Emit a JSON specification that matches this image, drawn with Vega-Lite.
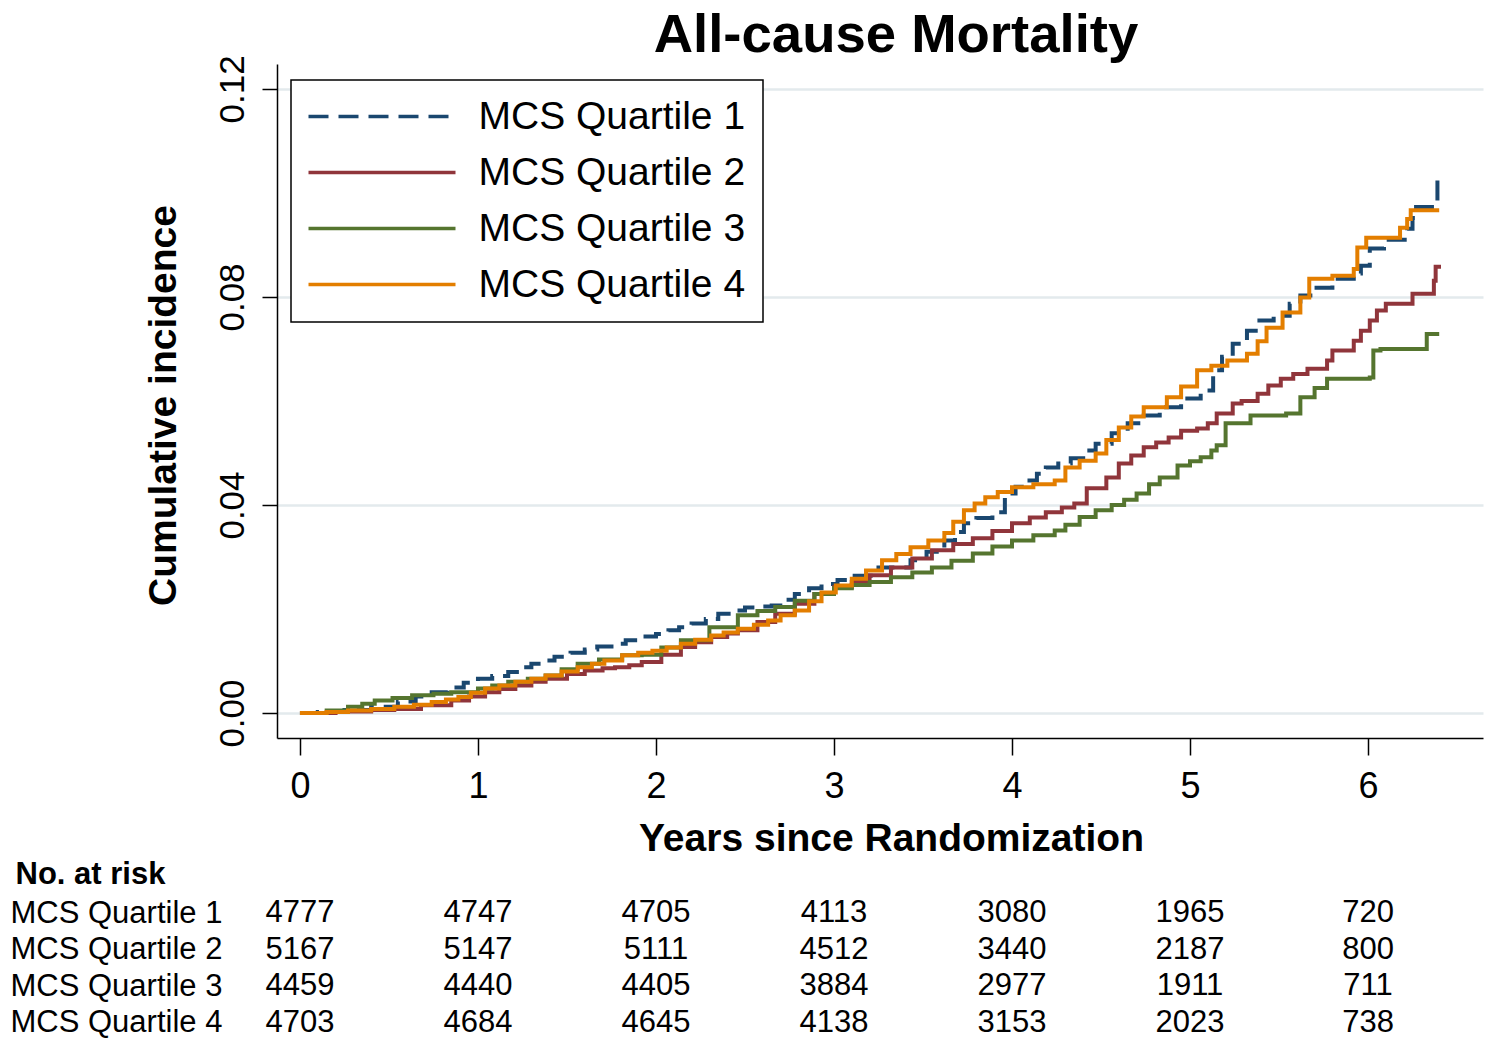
{
  "$schema": "https://vega.github.io/schema/vega-lite/v6.json",
  "padding": {"left": 10, "top": 8, "right": 5, "bottom": 0},
  "background": "white",
  "config": {"view": {"stroke": null}, "font": "Liberation Sans", "concat": {"spacing": 0}},
  "datasets": {
    "curves": [
      {"series":"MCS Quartile 1","years":0,"cuminc":0},{"series":"MCS Quartile 1","years":0.1,"cuminc":0.0002},{"series":"MCS Quartile 1","years":0.25,"cuminc":0.0006},{"series":"MCS Quartile 1","years":0.4,"cuminc":0.0012},{"series":"MCS Quartile 1","years":0.55,"cuminc":0.0022},{"series":"MCS Quartile 1","years":0.65,"cuminc":0.0032},{"series":"MCS Quartile 1","years":0.74,"cuminc":0.004},{"series":"MCS Quartile 1","years":0.83,"cuminc":0.0049},{"series":"MCS Quartile 1","years":0.92,"cuminc":0.0058},{"series":"MCS Quartile 1","years":1.0,"cuminc":0.0066},{"series":"MCS Quartile 1","years":1.08,"cuminc":0.0071},{"series":"MCS Quartile 1","years":1.17,"cuminc":0.0079},{"series":"MCS Quartile 1","years":1.24,"cuminc":0.0088},{"series":"MCS Quartile 1","years":1.3,"cuminc":0.0095},{"series":"MCS Quartile 1","years":1.37,"cuminc":0.0101},{"series":"MCS Quartile 1","years":1.43,"cuminc":0.0108},{"series":"MCS Quartile 1","years":1.52,"cuminc":0.0116},{"series":"MCS Quartile 1","years":1.6,"cuminc":0.0122},{"series":"MCS Quartile 1","years":1.67,"cuminc":0.0128},{"series":"MCS Quartile 1","years":1.75,"cuminc":0.0133},{"series":"MCS Quartile 1","years":1.83,"cuminc":0.014},{"series":"MCS Quartile 1","years":1.92,"cuminc":0.0147},{"series":"MCS Quartile 1","years":2.0,"cuminc":0.0152},{"series":"MCS Quartile 1","years":2.07,"cuminc":0.0159},{"series":"MCS Quartile 1","years":2.13,"cuminc":0.0165},{"series":"MCS Quartile 1","years":2.2,"cuminc":0.0172},{"series":"MCS Quartile 1","years":2.28,"cuminc":0.0181},{"series":"MCS Quartile 1","years":2.35,"cuminc":0.0191},{"series":"MCS Quartile 1","years":2.42,"cuminc":0.0197},{"series":"MCS Quartile 1","years":2.5,"cuminc":0.0203},{"series":"MCS Quartile 1","years":2.58,"cuminc":0.0205},{"series":"MCS Quartile 1","years":2.65,"cuminc":0.0207},{"series":"MCS Quartile 1","years":2.72,"cuminc":0.0218},{"series":"MCS Quartile 1","years":2.78,"cuminc":0.0229},{"series":"MCS Quartile 1","years":2.86,"cuminc":0.024},{"series":"MCS Quartile 1","years":2.93,"cuminc":0.0248},{"series":"MCS Quartile 1","years":3.02,"cuminc":0.0256},{"series":"MCS Quartile 1","years":3.1,"cuminc":0.0264},{"series":"MCS Quartile 1","years":3.25,"cuminc":0.028},{"series":"MCS Quartile 1","years":3.43,"cuminc":0.0294},{"series":"MCS Quartile 1","years":3.52,"cuminc":0.031},{"series":"MCS Quartile 1","years":3.62,"cuminc":0.0332},{"series":"MCS Quartile 1","years":3.68,"cuminc":0.0348},{"series":"MCS Quartile 1","years":3.73,"cuminc":0.0365},{"series":"MCS Quartile 1","years":3.8,"cuminc":0.0375},{"series":"MCS Quartile 1","years":3.89,"cuminc":0.0386},{"series":"MCS Quartile 1","years":3.96,"cuminc":0.0422},{"series":"MCS Quartile 1","years":4.02,"cuminc":0.0435},{"series":"MCS Quartile 1","years":4.08,"cuminc":0.0447},{"series":"MCS Quartile 1","years":4.14,"cuminc":0.046},{"series":"MCS Quartile 1","years":4.19,"cuminc":0.0472},{"series":"MCS Quartile 1","years":4.26,"cuminc":0.048},{"series":"MCS Quartile 1","years":4.33,"cuminc":0.049},{"series":"MCS Quartile 1","years":4.4,"cuminc":0.0505},{"series":"MCS Quartile 1","years":4.47,"cuminc":0.0518},{"series":"MCS Quartile 1","years":4.56,"cuminc":0.0538},{"series":"MCS Quartile 1","years":4.65,"cuminc":0.0557},{"series":"MCS Quartile 1","years":4.74,"cuminc":0.0572},{"series":"MCS Quartile 1","years":4.83,"cuminc":0.0588},{"series":"MCS Quartile 1","years":4.95,"cuminc":0.0605},{"series":"MCS Quartile 1","years":5.06,"cuminc":0.062},{"series":"MCS Quartile 1","years":5.13,"cuminc":0.0659},{"series":"MCS Quartile 1","years":5.18,"cuminc":0.0685},{"series":"MCS Quartile 1","years":5.24,"cuminc":0.071},{"series":"MCS Quartile 1","years":5.32,"cuminc":0.0735},{"series":"MCS Quartile 1","years":5.39,"cuminc":0.0755},{"series":"MCS Quartile 1","years":5.47,"cuminc":0.0764},{"series":"MCS Quartile 1","years":5.56,"cuminc":0.0787},{"series":"MCS Quartile 1","years":5.62,"cuminc":0.0803},{"series":"MCS Quartile 1","years":5.69,"cuminc":0.0818},{"series":"MCS Quartile 1","years":5.8,"cuminc":0.0835},{"series":"MCS Quartile 1","years":5.92,"cuminc":0.0845},{"series":"MCS Quartile 1","years":5.96,"cuminc":0.086},{"series":"MCS Quartile 1","years":6.01,"cuminc":0.0893},{"series":"MCS Quartile 1","years":6.09,"cuminc":0.091},{"series":"MCS Quartile 1","years":6.22,"cuminc":0.0931},{"series":"MCS Quartile 1","years":6.25,"cuminc":0.0952},{"series":"MCS Quartile 1","years":6.27,"cuminc":0.0973},{"series":"MCS Quartile 1","years":6.39,"cuminc":0.1033},{"series":"MCS Quartile 1","years":6.4,"cuminc":0.1033},
      {"series":"MCS Quartile 2","years":0,"cuminc":0},{"series":"MCS Quartile 2","years":0.2,"cuminc":0.0003},{"series":"MCS Quartile 2","years":0.4,"cuminc":0.0006},{"series":"MCS Quartile 2","years":0.53,"cuminc":0.0008},{"series":"MCS Quartile 2","years":0.68,"cuminc":0.0015},{"series":"MCS Quartile 2","years":0.85,"cuminc":0.0024},{"series":"MCS Quartile 2","years":0.95,"cuminc":0.0032},{"series":"MCS Quartile 2","years":1.04,"cuminc":0.004},{"series":"MCS Quartile 2","years":1.12,"cuminc":0.0046},{"series":"MCS Quartile 2","years":1.21,"cuminc":0.0053},{"series":"MCS Quartile 2","years":1.3,"cuminc":0.006},{"series":"MCS Quartile 2","years":1.38,"cuminc":0.0066},{"series":"MCS Quartile 2","years":1.5,"cuminc":0.0075},{"series":"MCS Quartile 2","years":1.6,"cuminc":0.0082},{"series":"MCS Quartile 2","years":1.7,"cuminc":0.0086},{"series":"MCS Quartile 2","years":1.77,"cuminc":0.0088},{"series":"MCS Quartile 2","years":1.85,"cuminc":0.0092},{"series":"MCS Quartile 2","years":1.92,"cuminc":0.0098},{"series":"MCS Quartile 2","years":2.03,"cuminc":0.0112},{"series":"MCS Quartile 2","years":2.14,"cuminc":0.0127},{"series":"MCS Quartile 2","years":2.22,"cuminc":0.0136},{"series":"MCS Quartile 2","years":2.31,"cuminc":0.0146},{"series":"MCS Quartile 2","years":2.4,"cuminc":0.0153},{"series":"MCS Quartile 2","years":2.46,"cuminc":0.0159},{"series":"MCS Quartile 2","years":2.57,"cuminc":0.0175},{"series":"MCS Quartile 2","years":2.67,"cuminc":0.0191},{"series":"MCS Quartile 2","years":2.78,"cuminc":0.021},{"series":"MCS Quartile 2","years":2.89,"cuminc":0.0229},{"series":"MCS Quartile 2","years":3.0,"cuminc":0.0242},{"series":"MCS Quartile 2","years":3.1,"cuminc":0.0252},{"series":"MCS Quartile 2","years":3.2,"cuminc":0.0265},{"series":"MCS Quartile 2","years":3.32,"cuminc":0.028},{"series":"MCS Quartile 2","years":3.44,"cuminc":0.0297},{"series":"MCS Quartile 2","years":3.55,"cuminc":0.0313},{"series":"MCS Quartile 2","years":3.67,"cuminc":0.0325},{"series":"MCS Quartile 2","years":3.78,"cuminc":0.0336},{"series":"MCS Quartile 2","years":3.89,"cuminc":0.035},{"series":"MCS Quartile 2","years":4.0,"cuminc":0.0365},{"series":"MCS Quartile 2","years":4.1,"cuminc":0.0376},{"series":"MCS Quartile 2","years":4.19,"cuminc":0.0386},{"series":"MCS Quartile 2","years":4.28,"cuminc":0.0395},{"series":"MCS Quartile 2","years":4.35,"cuminc":0.0403},{"series":"MCS Quartile 2","years":4.42,"cuminc":0.0432},{"series":"MCS Quartile 2","years":4.53,"cuminc":0.0453},{"series":"MCS Quartile 2","years":4.6,"cuminc":0.048},{"series":"MCS Quartile 2","years":4.67,"cuminc":0.0495},{"series":"MCS Quartile 2","years":4.74,"cuminc":0.0511},{"series":"MCS Quartile 2","years":4.81,"cuminc":0.052},{"series":"MCS Quartile 2","years":4.88,"cuminc":0.053},{"series":"MCS Quartile 2","years":4.95,"cuminc":0.0543},{"series":"MCS Quartile 2","years":5.04,"cuminc":0.0547},{"series":"MCS Quartile 2","years":5.1,"cuminc":0.0557},{"series":"MCS Quartile 2","years":5.15,"cuminc":0.0576},{"series":"MCS Quartile 2","years":5.24,"cuminc":0.0595},{"series":"MCS Quartile 2","years":5.29,"cuminc":0.06},{"series":"MCS Quartile 2","years":5.38,"cuminc":0.0614},{"series":"MCS Quartile 2","years":5.44,"cuminc":0.063},{"series":"MCS Quartile 2","years":5.51,"cuminc":0.0643},{"series":"MCS Quartile 2","years":5.58,"cuminc":0.0652},{"series":"MCS Quartile 2","years":5.66,"cuminc":0.0662},{"series":"MCS Quartile 2","years":5.77,"cuminc":0.0678},{"series":"MCS Quartile 2","years":5.8,"cuminc":0.0697},{"series":"MCS Quartile 2","years":5.92,"cuminc":0.0716},{"series":"MCS Quartile 2","years":5.96,"cuminc":0.0735},{"series":"MCS Quartile 2","years":6.01,"cuminc":0.0755},{"series":"MCS Quartile 2","years":6.05,"cuminc":0.0774},{"series":"MCS Quartile 2","years":6.1,"cuminc":0.0787},{"series":"MCS Quartile 2","years":6.25,"cuminc":0.0806},{"series":"MCS Quartile 2","years":6.37,"cuminc":0.0831},{"series":"MCS Quartile 2","years":6.38,"cuminc":0.0858},{"series":"MCS Quartile 2","years":6.41,"cuminc":0.0858},
      {"series":"MCS Quartile 3","years":0,"cuminc":0},{"series":"MCS Quartile 3","years":0.15,"cuminc":0.0005},{"series":"MCS Quartile 3","years":0.27,"cuminc":0.0012},{"series":"MCS Quartile 3","years":0.35,"cuminc":0.0018},{"series":"MCS Quartile 3","years":0.42,"cuminc":0.0024},{"series":"MCS Quartile 3","years":0.52,"cuminc":0.0029},{"series":"MCS Quartile 3","years":0.63,"cuminc":0.0034},{"series":"MCS Quartile 3","years":0.75,"cuminc":0.0037},{"series":"MCS Quartile 3","years":0.85,"cuminc":0.004},{"series":"MCS Quartile 3","years":1.0,"cuminc":0.0047},{"series":"MCS Quartile 3","years":1.08,"cuminc":0.0053},{"series":"MCS Quartile 3","years":1.17,"cuminc":0.006},{"series":"MCS Quartile 3","years":1.28,"cuminc":0.0066},{"series":"MCS Quartile 3","years":1.38,"cuminc":0.0072},{"series":"MCS Quartile 3","years":1.47,"cuminc":0.0084},{"series":"MCS Quartile 3","years":1.56,"cuminc":0.0095},{"series":"MCS Quartile 3","years":1.68,"cuminc":0.0103},{"series":"MCS Quartile 3","years":1.81,"cuminc":0.0111},{"series":"MCS Quartile 3","years":1.92,"cuminc":0.0112},{"series":"MCS Quartile 3","years":2.03,"cuminc":0.0126},{"series":"MCS Quartile 3","years":2.14,"cuminc":0.014},{"series":"MCS Quartile 3","years":2.3,"cuminc":0.0165},{"series":"MCS Quartile 3","years":2.46,"cuminc":0.0188},{"series":"MCS Quartile 3","years":2.57,"cuminc":0.0196},{"series":"MCS Quartile 3","years":2.67,"cuminc":0.0204},{"series":"MCS Quartile 3","years":2.78,"cuminc":0.0216},{"series":"MCS Quartile 3","years":2.89,"cuminc":0.0229},{"series":"MCS Quartile 3","years":3.0,"cuminc":0.024},{"series":"MCS Quartile 3","years":3.1,"cuminc":0.0246},{"series":"MCS Quartile 3","years":3.2,"cuminc":0.0252},{"series":"MCS Quartile 3","years":3.32,"cuminc":0.0261},{"series":"MCS Quartile 3","years":3.44,"cuminc":0.027},{"series":"MCS Quartile 3","years":3.55,"cuminc":0.028},{"series":"MCS Quartile 3","years":3.66,"cuminc":0.0293},{"series":"MCS Quartile 3","years":3.78,"cuminc":0.0307},{"series":"MCS Quartile 3","years":3.89,"cuminc":0.032},{"series":"MCS Quartile 3","years":4.0,"cuminc":0.0332},{"series":"MCS Quartile 3","years":4.12,"cuminc":0.0342},{"series":"MCS Quartile 3","years":4.24,"cuminc":0.0351},{"series":"MCS Quartile 3","years":4.3,"cuminc":0.0362},{"series":"MCS Quartile 3","years":4.38,"cuminc":0.0377},{"series":"MCS Quartile 3","years":4.47,"cuminc":0.039},{"series":"MCS Quartile 3","years":4.56,"cuminc":0.04},{"series":"MCS Quartile 3","years":4.63,"cuminc":0.041},{"series":"MCS Quartile 3","years":4.7,"cuminc":0.0422},{"series":"MCS Quartile 3","years":4.77,"cuminc":0.044},{"series":"MCS Quartile 3","years":4.83,"cuminc":0.0453},{"series":"MCS Quartile 3","years":4.93,"cuminc":0.0476},{"series":"MCS Quartile 3","years":5.0,"cuminc":0.0484},{"series":"MCS Quartile 3","years":5.06,"cuminc":0.0492},{"series":"MCS Quartile 3","years":5.12,"cuminc":0.0505},{"series":"MCS Quartile 3","years":5.15,"cuminc":0.0515},{"series":"MCS Quartile 3","years":5.2,"cuminc":0.0557},{"series":"MCS Quartile 3","years":5.34,"cuminc":0.0572},{"series":"MCS Quartile 3","years":5.54,"cuminc":0.0576},{"series":"MCS Quartile 3","years":5.62,"cuminc":0.0607},{"series":"MCS Quartile 3","years":5.7,"cuminc":0.0625},{"series":"MCS Quartile 3","years":5.77,"cuminc":0.0643},{"series":"MCS Quartile 3","years":6.01,"cuminc":0.0645},{"series":"MCS Quartile 3","years":6.03,"cuminc":0.0697},{"series":"MCS Quartile 3","years":6.07,"cuminc":0.07},{"series":"MCS Quartile 3","years":6.33,"cuminc":0.0729},{"series":"MCS Quartile 3","years":6.4,"cuminc":0.0729},
      {"series":"MCS Quartile 4","years":0,"cuminc":0},{"series":"MCS Quartile 4","years":0.15,"cuminc":0.0002},{"series":"MCS Quartile 4","years":0.27,"cuminc":0.0005},{"series":"MCS Quartile 4","years":0.4,"cuminc":0.0008},{"series":"MCS Quartile 4","years":0.53,"cuminc":0.0012},{"series":"MCS Quartile 4","years":0.64,"cuminc":0.0016},{"series":"MCS Quartile 4","years":0.74,"cuminc":0.0021},{"series":"MCS Quartile 4","years":0.82,"cuminc":0.0026},{"series":"MCS Quartile 4","years":0.89,"cuminc":0.0031},{"series":"MCS Quartile 4","years":0.96,"cuminc":0.0039},{"series":"MCS Quartile 4","years":1.04,"cuminc":0.0047},{"series":"MCS Quartile 4","years":1.12,"cuminc":0.0053},{"series":"MCS Quartile 4","years":1.21,"cuminc":0.006},{"series":"MCS Quartile 4","years":1.3,"cuminc":0.0066},{"series":"MCS Quartile 4","years":1.38,"cuminc":0.0072},{"series":"MCS Quartile 4","years":1.47,"cuminc":0.008},{"series":"MCS Quartile 4","years":1.56,"cuminc":0.0088},{"series":"MCS Quartile 4","years":1.64,"cuminc":0.0095},{"series":"MCS Quartile 4","years":1.71,"cuminc":0.0101},{"series":"MCS Quartile 4","years":1.81,"cuminc":0.0111},{"series":"MCS Quartile 4","years":1.9,"cuminc":0.0116},{"series":"MCS Quartile 4","years":1.98,"cuminc":0.012},{"series":"MCS Quartile 4","years":2.06,"cuminc":0.0126},{"series":"MCS Quartile 4","years":2.14,"cuminc":0.0133},{"series":"MCS Quartile 4","years":2.22,"cuminc":0.0141},{"series":"MCS Quartile 4","years":2.31,"cuminc":0.0149},{"series":"MCS Quartile 4","years":2.38,"cuminc":0.0155},{"series":"MCS Quartile 4","years":2.46,"cuminc":0.0162},{"series":"MCS Quartile 4","years":2.55,"cuminc":0.017},{"series":"MCS Quartile 4","years":2.63,"cuminc":0.0178},{"series":"MCS Quartile 4","years":2.7,"cuminc":0.0188},{"series":"MCS Quartile 4","years":2.78,"cuminc":0.0197},{"series":"MCS Quartile 4","years":2.86,"cuminc":0.0215},{"series":"MCS Quartile 4","years":2.93,"cuminc":0.0232},{"series":"MCS Quartile 4","years":3.01,"cuminc":0.0245},{"series":"MCS Quartile 4","years":3.1,"cuminc":0.0258},{"series":"MCS Quartile 4","years":3.18,"cuminc":0.0274},{"series":"MCS Quartile 4","years":3.27,"cuminc":0.0294},{"series":"MCS Quartile 4","years":3.35,"cuminc":0.0306},{"series":"MCS Quartile 4","years":3.43,"cuminc":0.0319},{"series":"MCS Quartile 4","years":3.53,"cuminc":0.0332},{"series":"MCS Quartile 4","years":3.62,"cuminc":0.0346},{"series":"MCS Quartile 4","years":3.67,"cuminc":0.0368},{"series":"MCS Quartile 4","years":3.73,"cuminc":0.039},{"series":"MCS Quartile 4","years":3.79,"cuminc":0.0403},{"series":"MCS Quartile 4","years":3.85,"cuminc":0.0415},{"series":"MCS Quartile 4","years":3.92,"cuminc":0.0425},{"series":"MCS Quartile 4","years":4.0,"cuminc":0.0434},{"series":"MCS Quartile 4","years":4.12,"cuminc":0.044},{"series":"MCS Quartile 4","years":4.24,"cuminc":0.0447},{"series":"MCS Quartile 4","years":4.3,"cuminc":0.0472},{"series":"MCS Quartile 4","years":4.38,"cuminc":0.0485},{"series":"MCS Quartile 4","years":4.47,"cuminc":0.0499},{"series":"MCS Quartile 4","years":4.53,"cuminc":0.0525},{"series":"MCS Quartile 4","years":4.6,"cuminc":0.0549},{"series":"MCS Quartile 4","years":4.67,"cuminc":0.057},{"series":"MCS Quartile 4","years":4.74,"cuminc":0.0588},{"series":"MCS Quartile 4","years":4.87,"cuminc":0.0607},{"series":"MCS Quartile 4","years":4.95,"cuminc":0.0628},{"series":"MCS Quartile 4","years":5.04,"cuminc":0.0659},{"series":"MCS Quartile 4","years":5.12,"cuminc":0.0668},{"series":"MCS Quartile 4","years":5.21,"cuminc":0.0678},{"series":"MCS Quartile 4","years":5.32,"cuminc":0.0691},{"series":"MCS Quartile 4","years":5.38,"cuminc":0.0715},{"series":"MCS Quartile 4","years":5.43,"cuminc":0.0741},{"series":"MCS Quartile 4","years":5.52,"cuminc":0.077},{"series":"MCS Quartile 4","years":5.62,"cuminc":0.0799},{"series":"MCS Quartile 4","years":5.67,"cuminc":0.0835},{"series":"MCS Quartile 4","years":5.8,"cuminc":0.0841},{"series":"MCS Quartile 4","years":5.92,"cuminc":0.0854},{"series":"MCS Quartile 4","years":5.94,"cuminc":0.0895},{"series":"MCS Quartile 4","years":5.99,"cuminc":0.0914},{"series":"MCS Quartile 4","years":6.18,"cuminc":0.0933},{"series":"MCS Quartile 4","years":6.22,"cuminc":0.095},{"series":"MCS Quartile 4","years":6.24,"cuminc":0.0967},{"series":"MCS Quartile 4","years":6.4,"cuminc":0.0967}
    ],
    "risk": [
      {"series":"MCS Quartile 1","years":0,"n":4777},{"series":"MCS Quartile 1","years":1,"n":4747},{"series":"MCS Quartile 1","years":2,"n":4705},{"series":"MCS Quartile 1","years":3,"n":4113},{"series":"MCS Quartile 1","years":4,"n":3080},{"series":"MCS Quartile 1","years":5,"n":1965},{"series":"MCS Quartile 1","years":6,"n":720},
      {"series":"MCS Quartile 2","years":0,"n":5167},{"series":"MCS Quartile 2","years":1,"n":5147},{"series":"MCS Quartile 2","years":2,"n":5111},{"series":"MCS Quartile 2","years":3,"n":4512},{"series":"MCS Quartile 2","years":4,"n":3440},{"series":"MCS Quartile 2","years":5,"n":2187},{"series":"MCS Quartile 2","years":6,"n":800},
      {"series":"MCS Quartile 3","years":0,"n":4459},{"series":"MCS Quartile 3","years":1,"n":4440},{"series":"MCS Quartile 3","years":2,"n":4405},{"series":"MCS Quartile 3","years":3,"n":3884},{"series":"MCS Quartile 3","years":4,"n":2977},{"series":"MCS Quartile 3","years":5,"n":1911},{"series":"MCS Quartile 3","years":6,"n":711},
      {"series":"MCS Quartile 4","years":0,"n":4703},{"series":"MCS Quartile 4","years":1,"n":4684},{"series":"MCS Quartile 4","years":2,"n":4645},{"series":"MCS Quartile 4","years":3,"n":4138},{"series":"MCS Quartile 4","years":4,"n":3153},{"series":"MCS Quartile 4","years":5,"n":2023},{"series":"MCS Quartile 4","years":6,"n":738}
    ]
  },
  "vconcat": [
    {
      "width": 1206,
      "height": 674,
      "title": {"text": "All-cause Mortality", "fontSize": 54.5, "fontWeight": "bold", "font": "Liberation Sans", "color": "black", "anchor": "middle", "dx": 16, "baseline": "alphabetic", "offset": -52},
      "data": {"name": "curves"},
      "mark": {"type": "line", "interpolate": "step-after", "strokeWidth": 4},
      "encoding": {
        "x": {
          "field": "years", "type": "quantitative",
          "scale": {"domain": [-0.129, 6.646], "nice": false, "zero": false},
          "axis": {"values": [0,1,2,3,4,5,6], "format": "d", "title": "Years since Randomization", "titleFontSize": 39, "titleFontWeight": "bold", "titleColor": "black", "titleBaseline": "alphabetic", "titleAlign": "center", "titleX": 614, "titleY": 112, "labelFontSize": 36, "labelColor": "black", "labelPadding": 14, "tickSize": 17, "tickColor": "black", "tickWidth": 1.5, "domainColor": "black", "domainWidth": 1.5, "grid": false}
        },
        "y": {
          "field": "cuminc", "type": "quantitative",
          "scale": {"domain": [-0.0048, 0.1248], "nice": false, "zero": false},
          "axis": {"values": [0,0.04,0.08,0.12], "format": ".2f", "title": "Cumulative incidence", "titleFontSize": 39, "titleFontWeight": "bold", "titleColor": "black", "titleAngle": 270, "titleAlign": "center", "titleBaseline": "alphabetic", "titleX": -102, "titleY": 341, "labelAngle": 270, "labelAlign": "center", "labelBaseline": "alphabetic", "labelPadding": 19, "labelFontSize": 35, "labelColor": "black", "tickSize": 15, "tickColor": "black", "tickWidth": 1.5, "domainColor": "black", "domainWidth": 1.5, "grid": true, "gridColor": "#e3eaed", "gridWidth": 2.5}
        },
        "color": {
          "field": "series", "type": "nominal",
          "scale": {"domain": ["MCS Quartile 1","MCS Quartile 2","MCS Quartile 3","MCS Quartile 4"], "range": ["#1a476f","#90353b","#55752f","#e37e00"]},
          "legend": {"title": null, "orient": "none", "legendX": 14, "legendY": 16, "padding": 17, "rowPadding": 16, "strokeColor": "black", "fillColor": "white", "labelFontSize": 39, "labelFont": "Liberation Sans", "labelColor": "black", "labelLimit": 0, "labelOffset": 77, "symbolType": "M-4.9,0H4.9", "symbolSize": 900, "symbolStrokeWidth": 3.5, "symbolOffset": 54.5, "encode": {"legend": {"update": {"strokeWidth": {"value": 1.5}}}}}
        },
        "strokeDash": {
          "field": "series", "type": "nominal",
          "scale": {"domain": ["MCS Quartile 1","MCS Quartile 2","MCS Quartile 3","MCS Quartile 4"], "range": [[20,10],[1,0],[1,0],[1,0]]},
          "legend": {"title": null, "orient": "none", "legendX": 14, "legendY": 16, "padding": 17, "rowPadding": 16, "strokeColor": "black", "fillColor": "white", "labelFontSize": 39, "labelFont": "Liberation Sans", "labelColor": "black", "labelLimit": 0, "labelOffset": 77, "symbolType": "M-4.9,0H4.9", "symbolSize": 900, "symbolStrokeWidth": 3.5, "symbolOffset": 54.5, "encode": {"legend": {"update": {"strokeWidth": {"value": 1.5}}}}}
        }
      }
    },
    {
      "width": 1206,
      "height": 146,
      "data": {"name": "risk"},
      "mark": {"type": "text", "fontSize": 31, "font": "Liberation Sans", "color": "black", "baseline": "middle", "align": "center"},
      "encoding": {
        "x": {"field": "years", "type": "quantitative", "scale": {"domain": [-0.129, 6.646], "nice": false, "zero": false}, "axis": null},
        "y": {
          "field": "series", "type": "nominal",
          "scale": {"type": "point", "padding": 0.5, "domain": ["MCS Quartile 1","MCS Quartile 2","MCS Quartile 3","MCS Quartile 4"]},
          "axis": {"title": "No. at risk", "titleAngle": 0, "titleAlign": "left", "titleBaseline": "alphabetic", "titleX": -262, "titleY": -12, "titleFontSize": 31, "titleFont": "Liberation Sans", "titleFontWeight": "bold", "titleColor": "black", "labelAlign": "left", "labelPadding": 267, "labelFontSize": 31, "labelFont": "Liberation Sans", "labelColor": "black", "labelLimit": 0, "ticks": false, "domain": false, "grid": false}
        },
        "text": {"field": "n", "type": "quantitative", "format": "d"}
      }
    }
  ]
}
